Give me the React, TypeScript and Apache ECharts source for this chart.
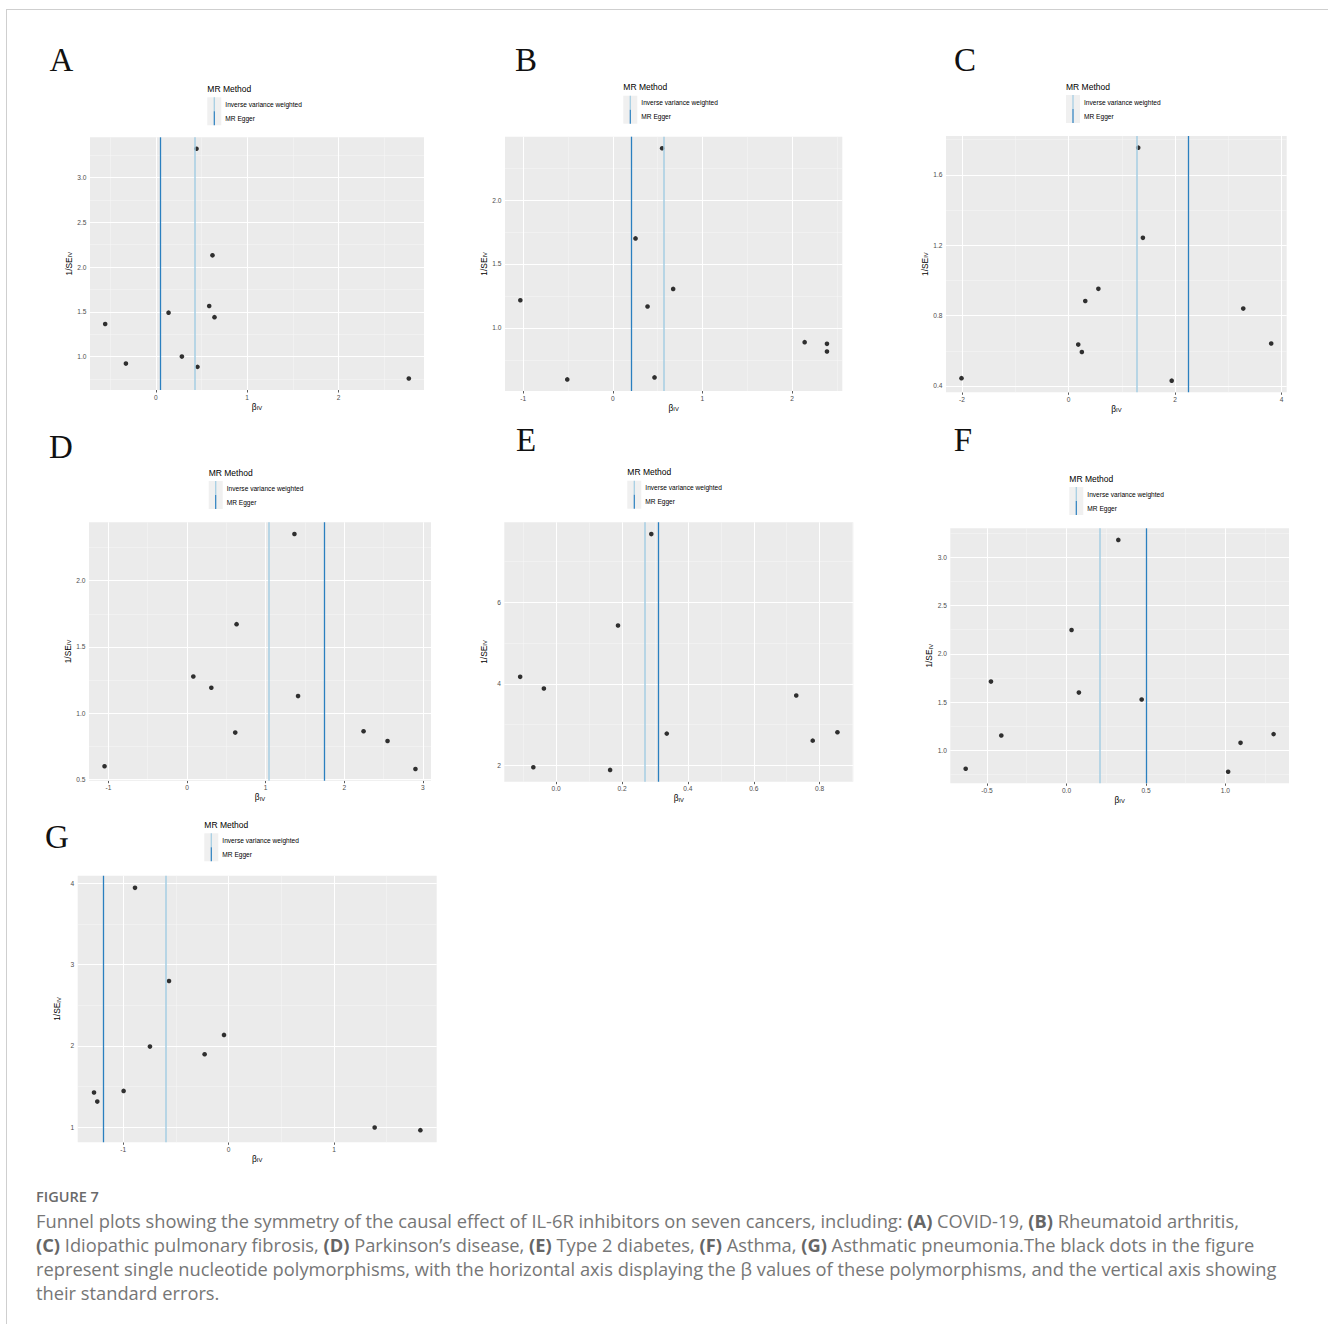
import React, { useEffect, useRef } from "react";
import * as echarts from "echarts";

// ---------- DATA ----------
const panelLetters = ["A", "B", "C", "D", "E", "F", "G"];

const aBeta = [-0.555, -0.328, 0.139, 0.285, 0.456, 0.445, 0.584, 0.62, 0.642, 2.77];
const aInvSE = [1.364, 0.922, 1.49, 1.0, 0.885, 3.32, 1.565, 2.13, 1.44, 0.755];

const bBeta = [-1.033, -0.509, 0.253, 0.387, 0.465, 0.55, 0.673, 2.141, 2.39, 2.39];
const bInvSE = [1.216, 0.596, 1.7, 1.167, 0.612, 2.406, 1.305, 0.888, 0.875, 0.815];

const cBeta = [-2.01, 0.182, 0.25, 0.314, 0.56, 1.308, 1.396, 1.937, 3.28, 3.805];
const cInvSE = [0.444, 0.635, 0.593, 0.883, 0.952, 1.755, 1.242, 0.43, 0.84, 0.641];

const dBeta = [-1.049, 0.08, 0.309, 0.63, 0.613, 1.366, 1.412, 2.245, 2.55, 2.905];
const dInvSE = [0.601, 1.278, 1.193, 1.672, 0.855, 2.351, 1.13, 0.865, 0.792, 0.581];

const eBeta = [-0.109, -0.069, -0.037, 0.164, 0.188, 0.289, 0.336, 0.729, 0.779, 0.854];
const eInvSE = [4.172, 1.951, 3.886, 1.886, 5.431, 7.676, 2.777, 3.714, 2.605, 2.81];

const fBeta = [-0.634, -0.475, -0.41, 0.032, 0.078, 0.326, 0.473, 1.017, 1.095, 1.303];
const fInvSE = [0.811, 1.713, 1.155, 2.246, 1.599, 3.179, 1.527, 0.78, 1.079, 1.169];

const gBeta = [-1.278, -1.247, -0.997, -0.889, -0.747, -0.566, -0.228, -0.044, 1.386, 1.82];
const gInvSE = [1.426, 1.315, 1.446, 3.943, 1.991, 2.797, 1.896, 2.134, 0.996, 0.963];

// MR method estimates (vertical lines)
const ivwBeta = [0.434, 0.569, 1.277, 1.036, 0.274, 0.214, -0.601];
const eggerBeta = [0.047, 0.212, 2.245, 1.746, 0.313, 0.498, -1.193];

// tick labels (major) and minor grid breaks
const xMajor = [[0, 1, 2], [-1, 0, 1, 2], [-2, 0, 2, 4], [-1, 0, 1, 2, 3], [0, 0.2, 0.4, 0.6, 0.8], [-0.5, 0, 0.5, 1], [-1, 0, 1]];
const xMinor = [[-0.5, 0.5, 1.5, 2.5], [-0.5, 0.5, 1.5, 2.5], [-1, 1, 3], [-0.5, 0.5, 1.5, 2.5], [-0.1, 0.1, 0.3, 0.5, 0.7, 0.9], [-0.25, 0.25, 0.75, 1.25], [-0.5, 0.5, 1.5]];
const yMajor = [[1, 1.5, 2, 2.5, 3], [1, 1.5, 2], [0.4, 0.8, 1.2, 1.6], [0.5, 1, 1.5, 2], [2, 4, 6], [1, 1.5, 2, 2.5, 3], [1, 2, 3, 4]];
const yMinor = [[0.75, 1.25, 1.75, 2.25, 2.75, 3.25], [0.75, 1.25, 1.75, 2.25], [0.6, 1.0, 1.4, 1.8], [0.75, 1.25, 1.75, 2.25], [3, 5, 7], [0.75, 1.25, 1.75, 2.25, 2.75, 3.25], [1.5, 2.5, 3.5]];
const xDecimals = [0, 0, 0, 0, 1, 1, 0];
const yDecimals = [1, 1, 1, 1, 0, 1, 0];

const legendTitle = "MR Method";
const methodNames = ["Inverse variance weighted", "MR Egger"];

const captionHead = "FIGURE 7";
const captionLines = [
  "Funnel plots showing the symmetry of the causal effect of IL-6R inhibitors on seven cancers, including: {b|(A)} COVID-19, {b|(B)} Rheumatoid arthritis,",
  "{b|(C)} Idiopathic pulmonary fibrosis, {b|(D)} Parkinson’s disease, {b|(E)} Type 2 diabetes, {b|(F)} Asthma, {b|(G)} Asthmatic pneumonia.The black dots in the figure",
  "represent single nucleotide polymorphisms, with the horizontal axis displaying the β values of these polymorphisms, and the vertical axis showing",
  "their standard errors.",
];

const betas = [aBeta, bBeta, cBeta, dBeta, eBeta, fBeta, gBeta];
const invSEs = [aInvSE, bInvSE, cInvSE, dInvSE, eInvSE, fInvSE, gInvSE];

// ---------- LAYOUT ----------
const layouts = [
  { grid: [90, 137.3, 424, 390], letter: [61.5, 60], key: [207.3, 97.3] },
  { grid: [505, 136.7, 842.3, 391], letter: [526, 60], key: [623.3, 95.7] },
  { grid: [946, 136, 1286.7, 392.3], letter: [965, 60], key: [1066, 95] },
  { grid: [89, 522.3, 431, 780.7], letter: [61, 447], key: [208.7, 481] },
  { grid: [504.3, 522.3, 853.3, 781.7], letter: [526, 440], key: [627.3, 480.7] },
  { grid: [950.3, 528.3, 1289, 783.3], letter: [963, 440], key: [1069.3, 487] },
  { grid: [77.7, 875.7, 436.7, 1142.3], letter: [57, 837], key: [204.3, 833.3] },
];

const SANS = "'Liberation Sans', Arial, Helvetica, sans-serif";
const CAPTION_FONT = "'Open Sans', sans-serif";
const IVW_COLOR = "#a6cee3";
const EGGER_COLOR = "#2a7fbf";

function expandRange(vals: number[]) {
  const lo = Math.min(...vals);
  const hi = Math.max(...vals);
  const pad = (hi - lo) * 0.05;
  return [lo - pad, hi + pad];
}

function fmt(v: number, d: number) {
  return v.toFixed(d);
}

function buildOption() {
  const grid: any[] = [];
  const xAxis: any[] = [];
  const yAxis: any[] = [];
  const series: any[] = [];
  const graphic: any[] = [];

  const nameRich = {
    n: { fontSize: 8.4, color: "#000", fontFamily: SANS },
    s: { fontSize: 5.8, color: "#000", fontFamily: SANS, padding: [3, 0, 0, 0] },
  };

  panelLetters.forEach((letter, i) => {
    const L = layouts[i];
    const [gl, gt, gr, gb] = L.grid;
    const [xmin, xmax] = expandRange(betas[i]);
    const [ymin, ymax] = expandRange(invSEs[i]);

    grid.push({
      left: gl,
      top: gt,
      width: gr - gl,
      height: gb - gt,
      show: true,
      backgroundColor: "#ebebeb",
      borderWidth: 0,
      containLabel: false,
    });

    xAxis.push({
      gridIndex: i,
      type: "value",
      min: xmin,
      max: xmax,
      axisLine: { show: false },
      splitLine: { show: false },
      axisTick: { show: true, customValues: xMajor[i], length: 2.5, lineStyle: { color: "#333", width: 0.8 } },
      axisLabel: {
        customValues: xMajor[i],
        formatter: (v: number) => fmt(v, xDecimals[i]),
        fontSize: 6.6,
        color: "#4d4d4d",
        fontFamily: SANS,
        margin: 3.5,
      },
      name: "{n|β}{s|IV}",
      nameLocation: "middle",
      nameGap: 12,
      nameTextStyle: { rich: nameRich },
    });

    yAxis.push({
      gridIndex: i,
      type: "value",
      min: ymin,
      max: ymax,
      axisLine: { show: false },
      splitLine: { show: false },
      axisTick: { show: true, customValues: yMajor[i], length: 2.5, lineStyle: { color: "#333", width: 0.8 } },
      axisLabel: {
        customValues: yMajor[i],
        formatter: (v: number) => fmt(v, yDecimals[i]),
        fontSize: 6.6,
        color: "#4d4d4d",
        fontFamily: SANS,
        margin: 3.5,
      },
      name: "{n|1/SE}{s|IV}",
      nameLocation: "middle",
      nameRotate: 90,
      nameGap: 16,
      nameTextStyle: { rich: nameRich },
    });

    const gridLines = [
      ...xMinor[i].map((v) => ({ xAxis: v, lineStyle: { width: 0.5, color: "#f7f7f7" } })),
      ...yMinor[i].map((v) => ({ yAxis: v, lineStyle: { width: 0.5, color: "#f7f7f7" } })),
      ...xMajor[i].map((v) => ({ xAxis: v, lineStyle: { width: 1, color: "#ffffff" } })),
      ...yMajor[i].map((v) => ({ yAxis: v, lineStyle: { width: 1, color: "#ffffff" } })),
    ];

    series.push({
      type: "scatter",
      xAxisIndex: i,
      yAxisIndex: i,
      data: [],
      silent: true,
      z: 1,
      markLine: {
        silent: true,
        z: 1,
        symbol: ["none", "none"],
        label: { show: false },
        emphasis: { disabled: true },
        lineStyle: { type: "solid" },
        data: gridLines,
      },
    });

    series.push({
      type: "scatter",
      xAxisIndex: i,
      yAxisIndex: i,
      symbolSize: 4.6,
      itemStyle: { color: "#000" },
      data: betas[i].map((b, j) => [b, invSEs[i][j]]),
      z: 3,
      silent: true,
    });

    series.push({
      type: "scatter",
      xAxisIndex: i,
      yAxisIndex: i,
      data: [],
      silent: true,
      z: 4,
      markLine: {
        silent: true,
        z: 4,
        symbol: ["none", "none"],
        label: { show: false },
        emphasis: { disabled: true },
        lineStyle: { type: "solid" },
        data: [
          { xAxis: ivwBeta[i], lineStyle: { color: IVW_COLOR, width: 1.5 } },
          { xAxis: eggerBeta[i], lineStyle: { color: EGGER_COLOR, width: 1.3 } },
        ],
      },
    });

    // panel letter
    graphic.push({
      type: "text",
      x: L.letter[0],
      y: L.letter[1],
      style: {
        text: letter,
        fontSize: 33,
        fontFamily: "'Liberation Serif', 'Times New Roman', serif",
        fill: "#111",
        align: "center",
        verticalAlign: "middle",
      },
    });

    // legend
    const [kx, ky] = L.key;
    graphic.push({
      type: "group",
      x: kx,
      y: ky,
      children: [
        {
          type: "text",
          x: 0,
          y: -8.3,
          style: { text: legendTitle, fontSize: 8.5, fontFamily: SANS, fill: "#000", align: "left", verticalAlign: "middle" },
        },
        { type: "rect", shape: { x: 0, y: 0, width: 14, height: 28 }, style: { fill: "#f0f0f0" } },
        { type: "line", shape: { x1: 7, y1: 0, x2: 7, y2: 14 }, style: { stroke: IVW_COLOR, lineWidth: 1.3 } },
        { type: "line", shape: { x1: 7, y1: 14, x2: 7, y2: 28 }, style: { stroke: EGGER_COLOR, lineWidth: 1.2 } },
        {
          type: "text",
          x: 18,
          y: 7,
          style: { text: methodNames[0], fontSize: 6.6, fontFamily: SANS, fill: "#000", align: "left", verticalAlign: "middle" },
        },
        {
          type: "text",
          x: 18,
          y: 21,
          style: { text: methodNames[1], fontSize: 6.6, fontFamily: SANS, fill: "#000", align: "left", verticalAlign: "middle" },
        },
      ],
    });
  });

  // frame lines
  graphic.push({ type: "line", shape: { x1: 6, y1: 9.5, x2: 1328, y2: 9.5 }, style: { stroke: "#cfcfcf", lineWidth: 1 } });
  graphic.push({ type: "line", shape: { x1: 6.5, y1: 9, x2: 6.5, y2: 1324 }, style: { stroke: "#cfcfcf", lineWidth: 1 } });

  // caption
  graphic.push({
    type: "text",
    x: 36,
    y: 1196,
    style: {
      text: captionHead,
      fontSize: 14.5,
      fontWeight: 600,
      fontFamily: CAPTION_FONT,
      fill: "#6a6a6a",
      align: "left",
      verticalAlign: "middle",
    },
  });
  captionLines.forEach((line, k) => {
    graphic.push({
      type: "text",
      x: 36,
      y: 1220 + k * 24,
      style: {
        text: line,
        fontSize: 18.3,
        fontFamily: CAPTION_FONT,
        fill: "#767676",
        align: "left",
        verticalAlign: "middle",
        rich: {
          b: { fontSize: 18.3, fontWeight: 700, fontFamily: CAPTION_FONT, fill: "#666" },
        },
      },
    });
  });

  return {
    animation: false,
    backgroundColor: "#ffffff",
    grid,
    xAxis,
    yAxis,
    series,
    graphic,
  };
}

export default function App() {
  const ref = useRef<HTMLDivElement>(null);
  useEffect(() => {
    if (!ref.current) return;
    const chart = echarts.init(ref.current, null, { renderer: "svg" });
    chart.setOption(buildOption() as any);
    return () => chart.dispose();
  }, []);
  return (
    <div
      ref={ref}
      style={{ position: "absolute", left: 0, top: 0, width: 1328, height: 1324, background: "#fff" }}
    />
  );
}
